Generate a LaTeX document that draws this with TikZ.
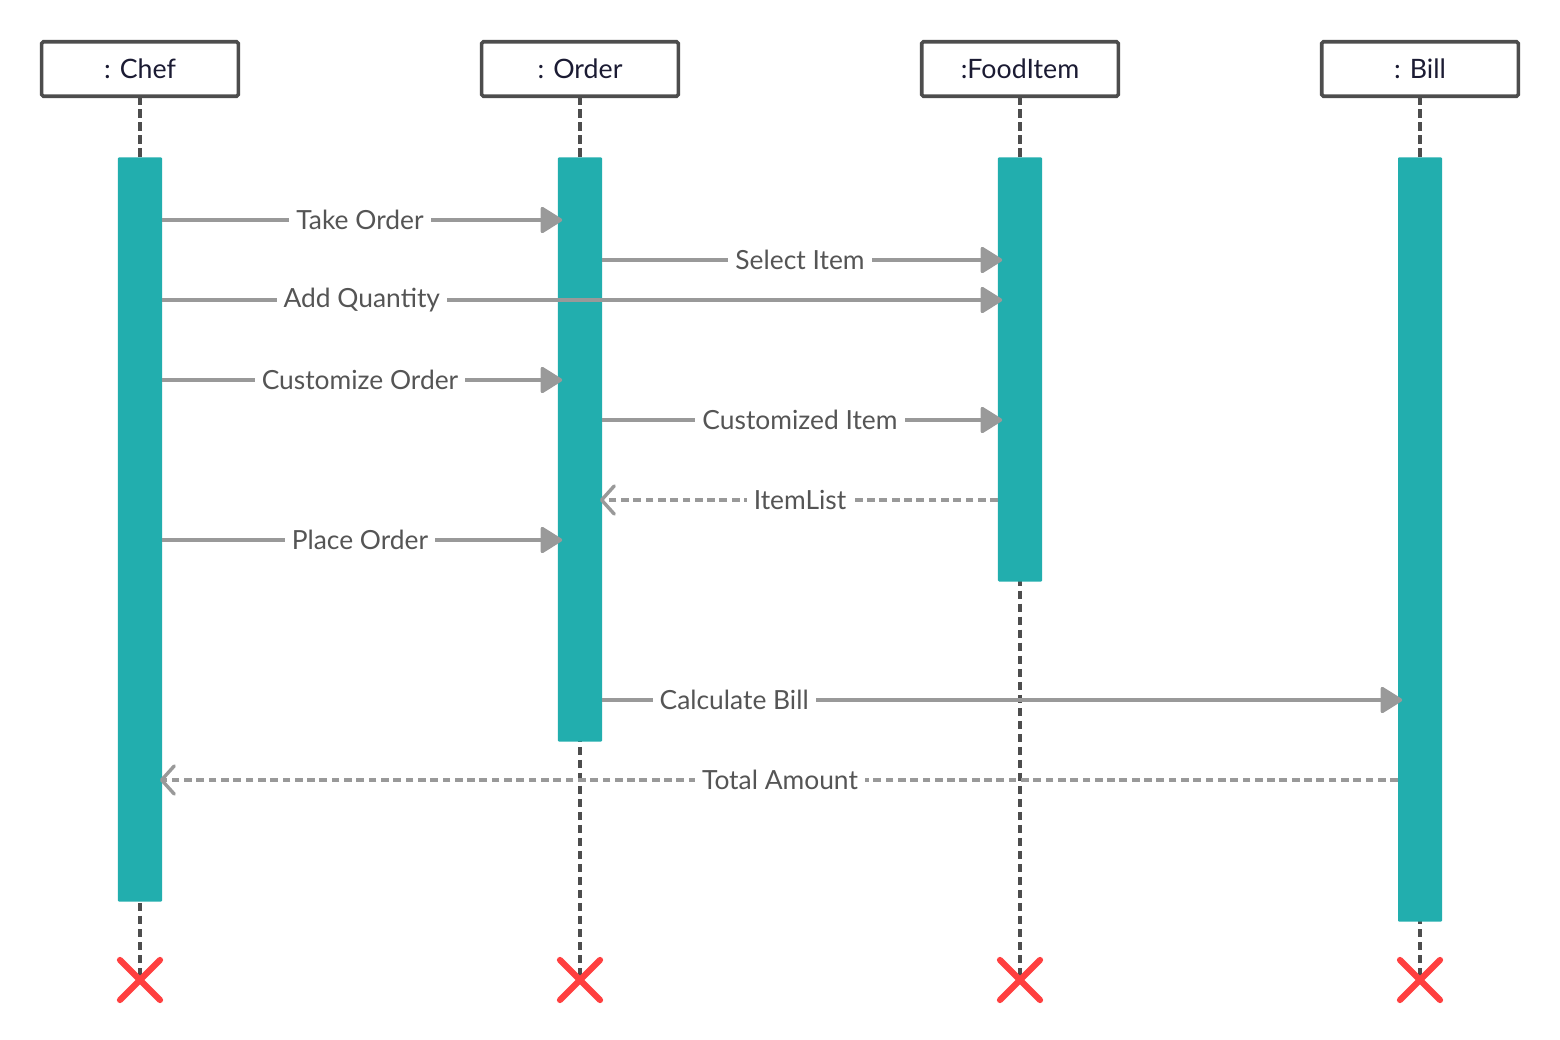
\documentclass[tikz,border=0pt]{standalone}
\usepackage{fontspec}
\setmainfont{Lato}
\usetikzlibrary{positioning}
\usetikzlibrary{arrows.meta}
\usetikzlibrary{shapes.misc}

\definecolor{barteal}{HTML}{22AEAE}
\definecolor{msggray}{HTML}{999999}
\definecolor{linegray}{HTML}{4D4D4D}
\definecolor{txtgray}{HTML}{555555}
\definecolor{headtxt}{HTML}{1B1B33}
\definecolor{killred}{HTML}{FF4040}

\begin{document}
\begin{tikzpicture}[
        x = 0.01cm, y = -0.01cm,
        head/.style = {
            draw = linegray,
            line width = 0.036cm,
            rounded corners = 0.5pt,
            fill = white,
            minimum width = 1.965cm,
            minimum height = 0.545cm,
            inner sep = 0pt,
            outer sep = 0pt,
            text = headtxt,
            font = \fontsize{7.6}{9}\selectfont
        },
        bar/.style = {
            fill = barteal,
            minimum width = 0.44cm,
            minimum height = #1,
            inner sep = 0pt,
            outer sep = 0pt,
            rounded corners = 0.3pt
        },
        life/.style = {draw=linegray, line width=0.036cm, dash pattern=on 2.4pt off 1.3pt},
        kill/.style = {
            cross out,
            draw = killred,
            line width = 0.062cm,
            line cap = round,
            minimum size = 0.4cm,
            inner sep = 0pt,
            outer sep = 0pt
        },
        msg/.style = {draw=msggray, line width=0.034cm, shorten > = -1.2pt,
                      -{Triangle[length=6.6pt, width=8pt, round]}},
        ret/.style = {draw=msggray, line width=0.034cm, dash pattern=on 2.2pt off 1.3pt, shorten > = -0.6pt,
                      -{Straight Barb[length=3.6pt, width=8pt, round]}},
        lbl/.style = {fill=white, text=txtgray, inner sep=2pt, font=\fontsize{7.5}{9}\selectfont},
        node distance = {6.1mm}
        ]
        \useasboundingbox[fill=white] (0,0) rectangle (1560,1040);
%
        \node[head] (chef) at (140,69) {: Chef};
        \node[head] (order) at (580,69) {: Order};
        \node[head] (food) at (1020,69) {:FoodItem};
        \node[head] (bill) at (1420,69) {: Bill};
%
        \coordinate (chefend) at (chef |- 0,980);
        \coordinate (orderend) at (order |- 0,980);
        \coordinate (foodend) at (food |- 0,980);
        \coordinate (billend) at (bill |- 0,980);
%
        \draw[life] (chef.south) -- (chefend);
        \draw[life] (order.south) -- (orderend);
        \draw[life] (food.south) -- (foodend);
        \draw[life] (bill.south) -- (billend);
%
        \node[bar=7.44cm, below=of chef] (chefbar) {};
        \node[bar=5.84cm, below=of order] (orderbar) {};
        \node[bar=4.24cm, below=of food] (foodbar) {};
        \node[bar=7.64cm, below=of bill] (billbar) {};
%
%
        \draw[msg] (chefbar.east |- 0,220) -- (orderbar.west |- 0,220) node[lbl, midway] {Take Order};
        \draw[msg] (orderbar.east |- 0,260) -- (foodbar.west |- 0,260) node[lbl, midway] {Select Item};
        \draw[msg] (chefbar.east |- 0,300) -- (foodbar.west |- 0,300) node[lbl, pos=0.239] {Add Quantity};
        \draw[msg] (chefbar.east |- 0,380) -- (orderbar.west |- 0,380) node[lbl, midway] {Customize Order};
        \draw[msg] (orderbar.east |- 0,420) -- (foodbar.west |- 0,420) node[lbl, midway] {Customized Item};
        \draw[ret] (foodbar.west |- 0,500) -- (orderbar.east |- 0,500) node[lbl, midway] {ItemList};
        \draw[msg] (chefbar.east |- 0,540) -- (orderbar.west |- 0,540) node[lbl, midway] {Place Order};
        \draw[msg] (orderbar.east |- 0,700) -- (billbar.west |- 0,700) node[lbl, pos=0.166] {Calculate Bill};
        \draw[ret] (billbar.west |- 0,780) -- (chefbar.east |- 0,780) node[lbl, midway] {Total Amount};
%
        \node[kill] (chefx) at (chefend) {};
        \node[kill] (orderx) at (orderend) {};
        \node[kill] (foodx) at (foodend) {};
        \node[kill] (billx) at (billend) {};
%
    \end{tikzpicture}
\end{document}
